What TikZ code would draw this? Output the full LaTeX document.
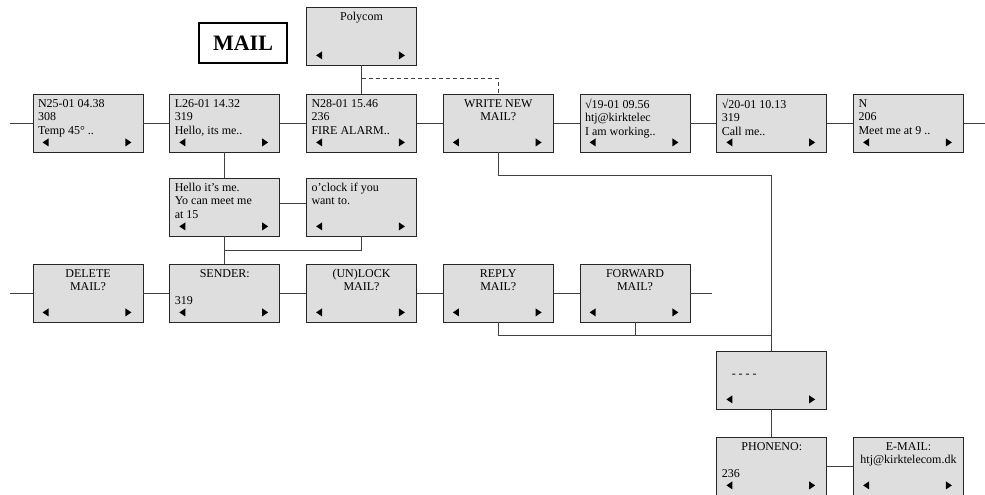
\documentclass[tikz,border=0pt]{standalone}
\usepackage{fontspec}
\setmainfont{Liberation Serif}
\usetikzlibrary{positioning, calc}

\newcommand{\scrleft}[1]{\parbox[t][48pt][t]{100pt}{\rule{0pt}{8pt}\raggedright #1}}
\newcommand{\scrmid}[1]{\parbox[t][48pt][t]{100pt}{\rule{0pt}{8pt}\centering #1}}

\begin{document}
\begin{tikzpicture}[x=1pt,y=-1pt,node distance=136.75pt,on grid,
  every node/.style={font=\fontsize{12}{13.5}\selectfont},
  screen/.style={draw=black!85,fill=black!13,inner sep=5pt,line width=0.8pt},
  link/.style={draw=black!75,line width=0.8pt}]
  \useasboundingbox (0,0) rectangle (985,495);

  % message list
  \node[screen] (n25) at (88,123) {\scrleft{N25-01 04.38\\308\\Temp 45° ..}};
  \node[screen] (l26)   [right=of n25]  {\scrleft{L26-01 14.32\\319\\Hello, its me..}};
  \node[screen] (n28)   [right=of l26]  {\scrleft{N28-01 15.46\\236\\FIRE ALARM..}};
  \node[screen] (write) [right=of n28]  {\scrmid{WRITE NEW\\MAIL?}};
  \node[screen] (v19)   [right=of write]{\scrleft{√19-01 09.56\\htj@kirktelec\\I am working..}};
  \node[screen] (v20)   [right=of v19]  {\scrleft{√20-01 10.13\\319\\Call me..}};
  \node[screen] (n206)  [right=of v20]  {\scrleft{N\\206\\Meet me at 9 ..}};

  \node[screen] (poly)  [above=87pt of n28] {\scrmid{Polycom}};
  \node[draw,line width=1.6pt,minimum width=88pt,minimum height=40pt,
        font=\fontsize{22}{26}\selectfont\bfseries] (mail) at (243,43) {MAIL};

  % message text
  \node[screen] (hello)  [below=84pt of l26] {\scrleft{Hello it’s me.\\Yo can meet me\\at 15}};
  \node[screen] (oclock) [right=of hello]    {\scrleft{o’clock if you\\want to.}};

  % message menu
  \node[screen] (delete)  [below=170pt of n25] {\scrmid{DELETE\\MAIL?}};
  \node[screen] (sender)  [right=of delete]  {\parbox[t][48pt][t]{100pt}{\rule{0pt}{8pt}\centering SENDER:\par
      \raggedright\mbox{}\\319}};
  \node[screen] (unlock)  [right=of sender]  {\scrmid{(UN)LOCK\\MAIL?}};
  \node[screen] (reply)   [right=of unlock]  {\scrmid{REPLY\\MAIL?}};
  \node[screen] (forward) [right=of reply]   {\scrmid{FORWARD\\MAIL?}};

  % address
  \node[screen] (dashes) [below=257pt of v20] {\scrleft{\mbox{}\\\hspace*{10pt}- - - -}};
  \node[screen] (phone)  [below=86pt of dashes] {\parbox[t][48pt][t]{100pt}{\rule{0pt}{8pt}\centering PHONENO:\par
      \raggedright\mbox{}\\236}};
  \node[screen] (email)  [right=of phone] {\scrmid{E-MAIL:\\\makebox[100pt]{htj@kirktelecom.dk}}};

  \foreach \n in {n25,l26,n28,write,v19,v20,n206,poly,hello,oclock,
                  delete,sender,unlock,reply,forward,dashes,phone,email} {
    \fill ([xshift=10pt,yshift=10pt]\n.south west) -- ++(6pt,4pt) -- ++(0pt,-8pt) -- cycle;
    \fill ([xshift=-12pt,yshift=10pt]\n.south east) -- ++(-6pt,4pt) -- ++(0pt,-8pt) -- cycle;
  }

  \coordinate (topin)  at (10,123);
  \coordinate (topout) at (985,123);
  \coordinate (botin)  at (10,293);
  \coordinate (botout) at (712,293);

  \path[link] (topin) -- (n25) (n25) -- (l26) (l26) -- (n28) (n28) -- (write)
    (write) -- (v19) (v19) -- (v20) (v20) -- (n206) (n206) -- (topout);
  \path[link] (botin) -- (delete) (delete) -- (sender) (sender) -- (unlock)
    (unlock) -- (reply) (reply) -- (forward) (forward) -- (botout);

  \draw[link] (poly) -- (n28);
  \draw[link,dash pattern=on 4pt off 3pt] ([yshift=-13pt]poly.south) -| (write.north);

  \draw[link] (l26) -- (hello);
  \draw[link] ([yshift=4pt]hello.east) -- ([yshift=4pt]oclock.west);
  \draw[link] (hello) -- (sender);
  \draw[link] ($(hello.south)!0.5!(sender.north)$) -| (oclock.south);

  \draw[link] (write.south) -- ++(0,23) -| (dashes.north);
  \coordinate (rj) at ([yshift=-13pt]reply.south);
  \draw[link] (reply.south) -- (rj) -- (rj -| dashes.north);
  \draw[link] (forward.south) -- (forward.south |- rj);
  \draw[link] (dashes) -- (phone);
  \draw[link] (phone) -- (email);
\end{tikzpicture}
\end{document}
